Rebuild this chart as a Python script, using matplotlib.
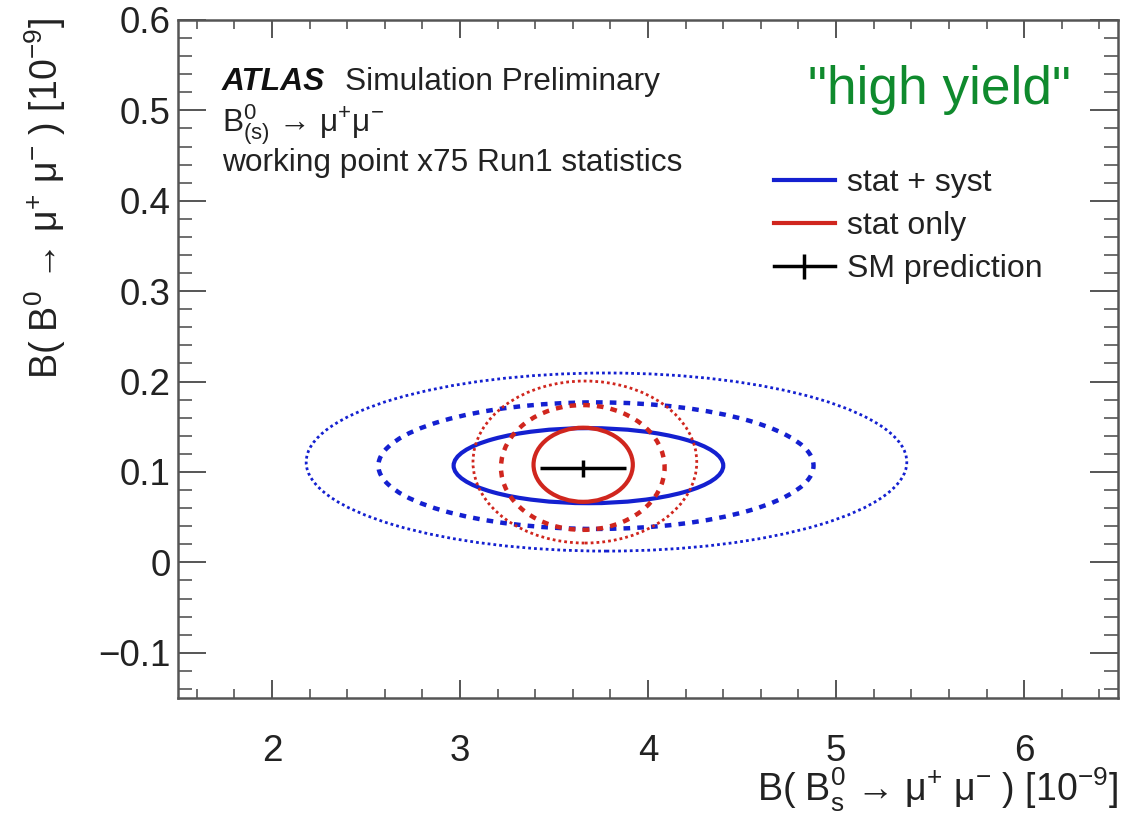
import matplotlib
matplotlib.use('Agg')
import matplotlib.pyplot as plt
from matplotlib.patches import Ellipse
from matplotlib.lines import Line2D

plt.rcParams['font.family'] = ['Liberation Sans', 'DejaVu Sans']
plt.rcParams['mathtext.fontset'] = 'custom'
plt.rcParams['mathtext.rm'] = 'Liberation Sans'
plt.rcParams['mathtext.it'] = 'Liberation Sans:italic'
plt.rcParams['mathtext.bf'] = 'Liberation Sans:bold'

# Likelihood contours (1, 2, 3 sigma) : centre and half-widths, in units of 1e-9
syst_cx = [3.683, 3.723, 3.779]
syst_cy = [0.107, 0.107, 0.111]
syst_hw = [0.717, 1.157, 1.597]
syst_hh = [0.0415, 0.070, 0.0985]

stat_cx = [3.655, 3.653, 3.664]
stat_cy = [0.108, 0.105, 0.111]
stat_hw = [0.264, 0.435, 0.595]
stat_hh = [0.041, 0.069, 0.0896]

# SM prediction
sm_bs = 3.655
sm_bd = 0.104
sm_bs_err = 0.229
sm_bd_err = 0.0095

blue = '#1420d0'
red = '#d0261e'
styles = [('-', 3.0), ((0, (1.5, 1.6)), 3.2), ((0, (1.0, 1.1)), 2.0)]

fig = plt.figure(figsize=(11.48, 8.18), dpi=100)
ax = fig.add_axes([0.155, 0.1467, 0.819, 0.8289])

for cx, cy, hw, hh, (ls, lw) in zip(syst_cx, syst_cy, syst_hw, syst_hh, styles):
    ax.add_patch(Ellipse((cx, cy), 2 * hw, 2 * hh, fill=False, edgecolor=blue,
                         linestyle=ls, linewidth=lw))
for cx, cy, hw, hh, (ls, lw) in zip(stat_cx, stat_cy, stat_hw, stat_hh, styles):
    ax.add_patch(Ellipse((cx, cy), 2 * hw, 2 * hh, fill=False, edgecolor=red,
                         linestyle=ls, linewidth=lw))

ax.errorbar([sm_bs], [sm_bd], xerr=[sm_bs_err], yerr=[sm_bd_err], fmt='none',
            ecolor='black', elinewidth=2.5, capsize=0)

ax.set_xlim(1.5, 6.5)
ax.set_ylim(-0.15, 0.6)
ax.set_xticks([2, 3, 4, 5, 6])
ax.set_xticklabels(['2', '3', '4', '5', '6'])
ax.set_xticks([1.6 + 0.2 * i for i in range(25)], minor=True)
ax.set_yticks([-0.1, 0, 0.1, 0.2, 0.3, 0.4, 0.5, 0.6])
ax.set_yticklabels(['\u22120.1', '0', '0.1', '0.2', '0.3', '0.4', '0.5', '0.6'])
ax.set_yticks([-0.14 + 0.02 * i for i in range(37)], minor=True)

for sp in ax.spines.values():
    sp.set_color('#555555')
    sp.set_linewidth(1.8)
ax.tick_params(axis='both', which='both', direction='in', top=True, right=True,
               colors='#555555', labelcolor='#222222', labelsize=26.5)
ax.tick_params(axis='x', which='major', length=13, width=1.4, pad=26)
ax.tick_params(axis='x', which='minor', length=6.5, width=1.2)
ax.tick_params(axis='y', which='major', length=20, width=1.4, pad=5)
ax.tick_params(axis='y', which='minor', length=10, width=1.2)

handles = [Line2D([], [], color=blue, lw=3),
           Line2D([], [], color=red, lw=3),
           Line2D([], [], color='black', lw=2.5, marker='|', markersize=18,
                  markeredgewidth=2.5)]
labels = ['stat + syst', 'stat only', 'SM prediction']
ax.legend(handles, labels, frameon=False, fontsize=23, loc='upper left',
          bbox_to_anchor=(0.6205, 0.80), handlelength=1.9, handletextpad=0.37,
          labelspacing=0.4, borderaxespad=0, labelcolor='#222222')

# labels
fig.text(222 / 1148, 1 - 82 / 818, 'ATLAS', fontsize=22.8, fontweight='bold',
         fontstyle='italic', color='#111111', va='center')
fig.text(345 / 1148, 1 - 82 / 818, 'Simulation Preliminary', fontsize=22.8,
         color='#222222', va='center')
fig.text(222 / 1148, 1 - 125 / 818,
         'B$^{0}_{\\mathrm{(s)}}$ \u2192 \u03bc$^{+}$\u03bc$^{-}$',
         fontsize=22.8, color='#222222', va='center')
fig.text(222 / 1148, 1 - 163 / 818, 'working point x75 Run1 statistics',
         fontsize=22.8, color='#222222', va='center')
fig.text(939 / 1148, 1 - 90 / 818, '"high yield"', fontsize=38.3, color='#0f8a2d',
         ha='center', va='center')

fig.text(1118 / 1148, 1 - 790 / 818,
         'B( B$_{\\mathrm{s}}^{0}$ \u2192 \u03bc$^{+}$ \u03bc$^{-}$ ) [10$^{-9}$]',
         fontsize=27, color='#222222', ha='right', va='center')
fig.text(45 / 1148, 1 - 18 / 818,
         'B( B$^{0}$ \u2192 \u03bc$^{+}$ \u03bc$^{-}$ ) [10$^{-9}$]',
         fontsize=27, color='#222222', ha='center', va='top', rotation=90)

fig.savefig('out.png', dpi=100)
